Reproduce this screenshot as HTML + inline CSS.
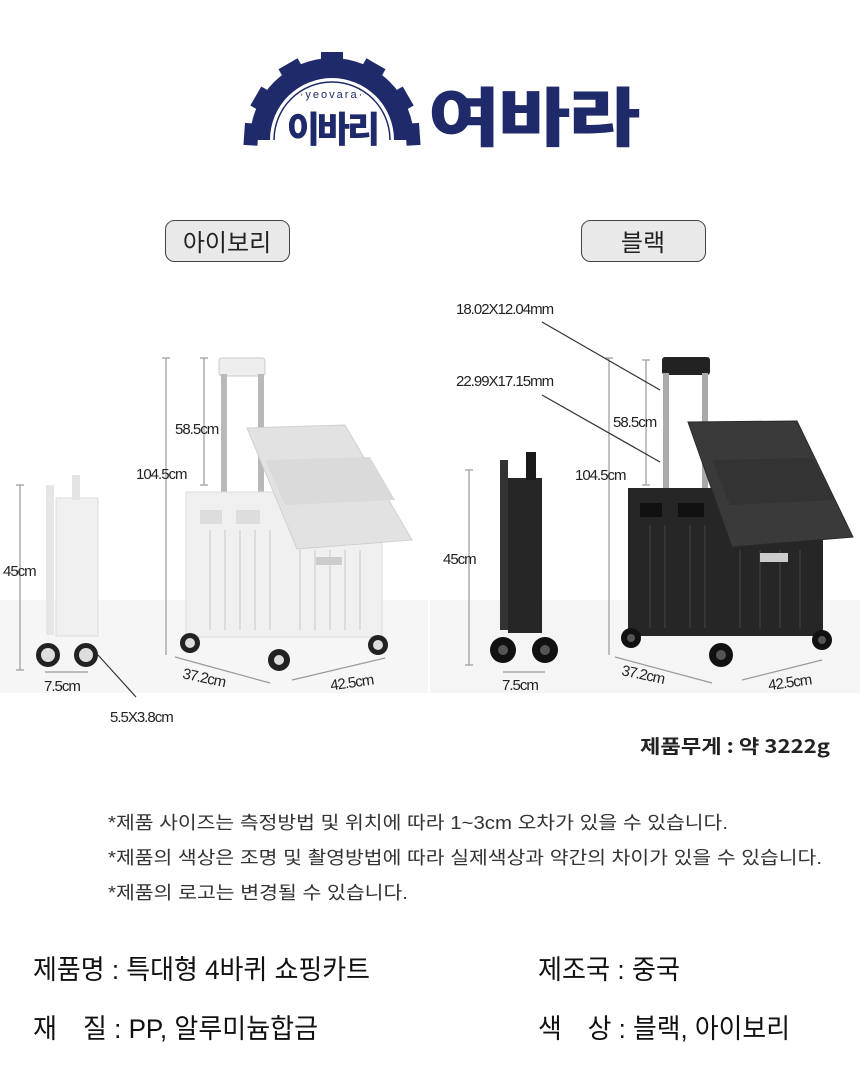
<!DOCTYPE html>
<html><head><meta charset="utf-8"><style>
html,body{margin:0;padding:0;background:#fff}
svg{display:block}
text{font-family:"Liberation Sans","Noto Sans CJK KR",sans-serif}
.k{font-family:"Noto Sans CJK KR","NanumGothic",sans-serif}
</style></head><body>
<svg width="860" height="1080" viewBox="0 0 860 1080" xmlns="http://www.w3.org/2000/svg">
<!-- logo -->
<g fill="#1f2a6b">
  <path d="M250 140 A82 82 0 0 1 414 140 L394 140 A62 62 0 0 0 270 140 Z"/>
  <g>
    <rect x="321" y="52" width="22" height="14"/>
    <rect x="321" y="52" width="22" height="14" transform="rotate(-30 332 140)"/>
    <rect x="321" y="52" width="22" height="14" transform="rotate(30 332 140)"/>
    <rect x="321" y="52" width="22" height="14" transform="rotate(-60 332 140)"/>
    <rect x="321" y="52" width="22" height="14" transform="rotate(60 332 140)"/>
    <rect x="321" y="52" width="22" height="14" transform="rotate(-86 332 140)"/>
    <rect x="321" y="52" width="22" height="14" transform="rotate(86 332 140)"/>
  </g>
  <path d="M274 140 A58 58 0 0 1 390 140" fill="none" stroke="#1f2a6b" stroke-width="1.5"/>
  <text x="332" y="98" text-anchor="middle" font-size="11" fill="#1f2a6b" letter-spacing="2">·yeovara·</text>
  <text x="332" y="142" text-anchor="middle" class="k" font-size="36" font-weight="900" fill="#1f2a6b" letter-spacing="-3">이바리</text>
  <text x="533" y="141" text-anchor="middle" class="k" font-size="64" font-weight="900" fill="#1f2a6b" letter-spacing="-2" textLength="210" lengthAdjust="spacingAndGlyphs">여바라</text>
</g>
<!-- color pills -->
<rect x="165.5" y="220.5" width="124" height="41" rx="9" fill="#e9e9e9" stroke="#444"/>
<text x="227" y="251" text-anchor="middle" class="k" font-size="24" fill="#222">아이보리</text>
<rect x="581.5" y="220.5" width="124" height="41" rx="9" fill="#e9e9e9" stroke="#444"/>
<text x="643" y="251" text-anchor="middle" class="k" font-size="24" fill="#222">블랙</text>
<!-- image backgrounds -->
<rect x="0" y="600" width="428" height="93" fill="#f6f6f6"/>
<rect x="430" y="600" width="430" height="93" fill="#f5f5f5"/>

<!-- WHITE cart -->
<g stroke="#999" stroke-width="1.2" fill="none">
  <line x1="166" y1="358" x2="166" y2="655"/><line x1="162" y1="358" x2="170" y2="358"/>
  <line x1="204" y1="358" x2="204" y2="485"/><line x1="200" y1="358" x2="208" y2="358"/><line x1="200" y1="485" x2="208" y2="485"/>
  <line x1="20" y1="485" x2="20" y2="670"/><line x1="16" y1="485" x2="24" y2="485"/><line x1="16" y1="670" x2="24" y2="670"/>
  <line x1="45" y1="672" x2="88" y2="672"/>
  <line x1="175" y1="657" x2="270" y2="683"/>
  <line x1="292" y1="680" x2="385" y2="658"/>
  <line x1="98" y1="655" x2="136" y2="697" stroke="#333"/>
</g>
<!-- folded white -->
<rect x="46" y="485" width="8" height="150" fill="#e6e6e6"/>
<rect x="56" y="498" width="42" height="138" fill="#f0f0f0" stroke="#ddd"/>
<rect x="72" y="475" width="8" height="25" fill="#e4e4e4"/>
<circle cx="48" cy="655" r="12" fill="#222"/><circle cx="48" cy="655" r="7" fill="#ddd"/>
<circle cx="86" cy="655" r="12" fill="#222"/><circle cx="86" cy="655" r="7" fill="#ddd"/>
<!-- handle -->
<rect x="219" y="358" width="46" height="18" rx="3" fill="#eee" stroke="#ccc"/>
<rect x="221" y="374" width="6" height="120" fill="#b9b9b9"/>
<rect x="258" y="374" width="6" height="120" fill="#b9b9b9"/>
<!-- box -->
<rect x="186" y="492" width="196" height="145" fill="#f0f0f0" stroke="#ddd"/>
<g stroke="#d6d6d6" stroke-width="1.5">
  <line x1="210" y1="530" x2="210" y2="630"/><line x1="225" y1="530" x2="225" y2="630"/><line x1="240" y1="530" x2="240" y2="630"/>
  <line x1="255" y1="530" x2="255" y2="630"/><line x1="270" y1="530" x2="270" y2="630"/><line x1="300" y1="550" x2="300" y2="630"/>
  <line x1="315" y1="550" x2="315" y2="630"/><line x1="330" y1="550" x2="330" y2="630"/><line x1="345" y1="550" x2="345" y2="630"/><line x1="360" y1="550" x2="360" y2="630"/>
</g>
<rect x="200" y="510" width="22" height="14" fill="#ddd"/><rect x="236" y="510" width="24" height="14" fill="#ddd"/>
<rect x="316" y="557" width="26" height="8" fill="#ccc"/>
<polygon points="247,428 345,425 412,540 297,549" fill="#e2e2e2" stroke="#d0d0d0"/>
<polygon points="265,460 370,457 395,500 285,505" fill="#dadada"/>
<g fill="#222">
  <circle cx="190" cy="643" r="10"/><circle cx="279" cy="660" r="11"/><circle cx="378" cy="645" r="10"/>
</g>
<g fill="#ddd"><circle cx="190" cy="643" r="5"/><circle cx="279" cy="660" r="5"/><circle cx="378" cy="645" r="5"/></g>

<!-- BLACK cart -->
<g stroke="#999" stroke-width="1.2" fill="none">
  <line x1="609" y1="358" x2="609" y2="655"/><line x1="605" y1="358" x2="613" y2="358"/>
  <line x1="646" y1="360" x2="646" y2="485"/><line x1="642" y1="360" x2="650" y2="360"/><line x1="642" y1="485" x2="650" y2="485"/>
  <line x1="469" y1="470" x2="469" y2="665"/><line x1="465" y1="470" x2="473" y2="470"/><line x1="465" y1="665" x2="473" y2="665"/>
  <line x1="503" y1="672" x2="545" y2="672"/>
  <line x1="615" y1="657" x2="712" y2="683"/>
  <line x1="742" y1="680" x2="822" y2="660"/>
</g>
<g stroke="#333" stroke-width="1.2"><line x1="542" y1="322" x2="660" y2="390"/><line x1="542" y1="395" x2="660" y2="462"/></g>
<!-- folded black -->
<rect x="500" y="460" width="8" height="170" fill="#333"/>
<rect x="508" y="478" width="34" height="155" fill="#262626"/>
<rect x="526" y="452" width="10" height="28" fill="#1a1a1a"/>
<circle cx="503" cy="650" r="13" fill="#111"/><circle cx="545" cy="650" r="13" fill="#111"/>
<circle cx="503" cy="650" r="5" fill="#555"/><circle cx="545" cy="650" r="5" fill="#555"/>
<!-- handle -->
<rect x="662" y="357" width="48" height="18" rx="3" fill="#222"/>
<rect x="663" y="373" width="6" height="118" fill="#aaa"/>
<rect x="702" y="373" width="6" height="118" fill="#aaa"/>
<rect x="628" y="488" width="195" height="148" fill="#262626"/>
<g stroke="#3a3a3a" stroke-width="1.5">
  <line x1="650" y1="525" x2="650" y2="628"/><line x1="665" y1="525" x2="665" y2="628"/><line x1="690" y1="525" x2="690" y2="628"/>
  <line x1="705" y1="525" x2="705" y2="628"/><line x1="740" y1="550" x2="740" y2="628"/><line x1="760" y1="550" x2="760" y2="628"/>
  <line x1="780" y1="550" x2="780" y2="628"/><line x1="800" y1="550" x2="800" y2="628"/>
</g>
<rect x="640" y="503" width="22" height="14" fill="#111"/><rect x="678" y="503" width="26" height="14" fill="#111"/>
<rect x="760" y="553" width="28" height="9" fill="#ccc"/>
<polygon points="688,422 797,421 853,537 732,547" fill="#3a3a3a" stroke="#2a2a2a"/>
<polygon points="712,460 812,458 835,500 730,505" fill="#333"/>
<g fill="#111"><circle cx="631" cy="638" r="10"/><circle cx="721" cy="655" r="12"/><circle cx="822" cy="640" r="10"/></g>
<g fill="#555"><circle cx="631" cy="638" r="4"/><circle cx="721" cy="655" r="5"/><circle cx="822" cy="640" r="4"/></g>

<!-- dimension labels -->
<g font-size="15" fill="#222" letter-spacing="-1">
  <text x="175" y="434">58.5cm</text>
  <text x="136" y="479">104.5cm</text>
  <text x="3" y="576">45cm</text>
  <text x="44" y="691">7.5cm</text>
  <text x="110" y="722">5.5X3.8cm</text>
  <text x="182" y="683" transform="rotate(12 205 680)">37.2cm</text>
  <text x="330" y="687" transform="rotate(-8 355 682)">42.5cm</text>
  <text x="456" y="314">18.02X12.04mm</text>
  <text x="456" y="386">22.99X17.15mm</text>
  <text x="613" y="427">58.5cm</text>
  <text x="575" y="480">104.5cm</text>
  <text x="443" y="564">45cm</text>
  <text x="502" y="690">7.5cm</text>
  <text x="621" y="680" transform="rotate(12 645 677)">37.2cm</text>
  <text x="768" y="687" transform="rotate(-8 792 682)">42.5cm</text>
</g>
<text x="640" y="753" class="k" font-size="19" font-weight="700" fill="#222" textLength="190" lengthAdjust="spacingAndGlyphs">제품무게 : 약 3222g</text>
<g class="k" font-size="18" fill="#333">
  <text x="108" y="829" textLength="620" lengthAdjust="spacingAndGlyphs">*제품 사이즈는 측정방법 및 위치에 따라 1~3cm 오차가 있을 수 있습니다.</text>
  <text x="108" y="864" textLength="714" lengthAdjust="spacingAndGlyphs">*제품의 색상은 조명 및 촬영방법에 따라 실제색상과 약간의 차이가 있을 수 있습니다.</text>
  <text x="108" y="899" textLength="300" lengthAdjust="spacingAndGlyphs">*제품의 로고는 변경될 수 있습니다.</text>
</g>
<g class="k" font-size="27" fill="#111">
  <text x="33" y="979" textLength="337" lengthAdjust="spacingAndGlyphs">제품명 : 특대형 4바퀴 쇼핑카트</text>
  <text x="538" y="979" textLength="142" lengthAdjust="spacingAndGlyphs">제조국 : 중국</text>
  <text x="33" y="1038" textLength="285" lengthAdjust="spacingAndGlyphs">재　질 : PP, 알루미늄합금</text>
  <text x="538" y="1038" textLength="252" lengthAdjust="spacingAndGlyphs">색　상 : 블랙, 아이보리</text>
</g>
</svg>
</body></html>
